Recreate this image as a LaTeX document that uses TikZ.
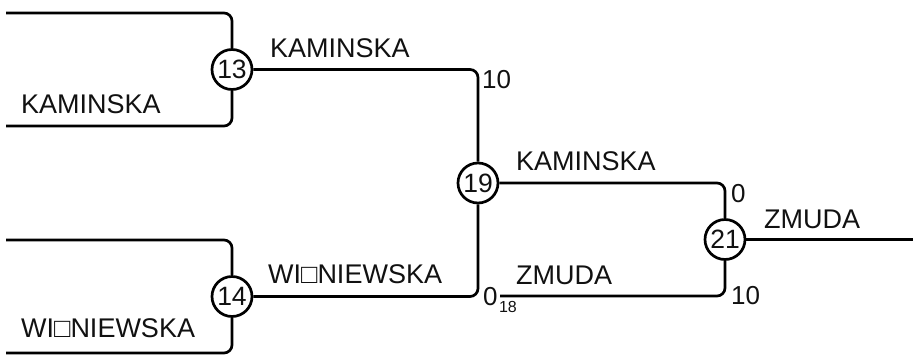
\documentclass[tikz,border=0pt]{standalone}
\usepackage{fontspec}
\setmainfont{Liberation Sans}
\usepackage{xcolor}
\definecolor{brkline}{HTML}{000000}
\definecolor{brktext}{HTML}{111111}
\usetikzlibrary{positioning}
\tikzset{
  mnode/.style={circle, draw=brkline, line width=2.7pt, fill=white, inner sep=0pt,
                minimum size=40pt, text=brktext, font=\fontsize{26.5}{30}\selectfont},
  pname/.style={anchor=base west, inner sep=0pt, text=brktext, font=\fontsize{27}{32}\selectfont},
  pscore/.style={anchor=base west, inner sep=0pt, text=brktext, font=\fontsize{26}{30}\selectfont},
  psub/.style={anchor=base west, inner sep=0pt, text=brktext, font=\fontsize{16}{19}\selectfont},
  bline/.style={line width=2.7pt, color=brkline, rounded corners=8pt},
}

\begin{document}
\begin{tikzpicture}[x=1pt, y=-1pt]
  \useasboundingbox (0,0) rectangle (913,357);
  % matches
  \node[mnode] (m13) at (232,69.5) {13};
  \node[mnode] (m14) at (232,296.5) {14};
  \node[mnode] (m19) at (478,183) {19};
  \node[mnode] (m21) at (725,239.5) {21};
  % free ends
  \coordinate (a1) at (6,13);
  \coordinate (a2) at (6,126);
  \coordinate (b1) at (6,240);
  \coordinate (b2) at (6,353);
  \coordinate (c18) at (500,296);
  \coordinate (fin) at (913,239.5);
  % connectors
  \draw[bline] (a1) -| (m13);
  \draw[bline] (a2) -| (m13);
  \draw[bline] (b1) -| (m14);
  \draw[bline] (b2) -| (m14);
  \draw[bline] (m13) -| (m19);
  \draw[bline] (m14) -| (m19);
  \draw[bline] (m19) -| (m21);
  \draw[bline] (c18) -| (m21);
  \draw[bline] (m21) -- (fin);
  % names
  \node[pname] (n1) at (21,113) {KAMINSKA};
  \node[pname] (n2) at (21,337) {WI□NIEWSKA};
  \node[pname] (n3) at (270,57) {KAMINSKA};
  \node[pname] (n4) at (268,283) {WI□NIEWSKA};
  \node[pname] (n5) at (516,170) {KAMINSKA};
  \node[pname] (n6) at (516,284) {ZMUDA};
  \node[pname] (n7) at (764,228) {ZMUDA};
  % scores
  \node[pscore] (s1) at (482,88) {10};
  \node[pscore] (s2) at (731,202) {0};
  \node[pscore] (s3) at (731,304) {10};
  \node[pscore] (s4) at (483,305) {0};
  \node[psub, right=1pt of s4.base east, anchor=base west, yshift=-7pt] (s5) {18};
\end{tikzpicture}
\end{document}
